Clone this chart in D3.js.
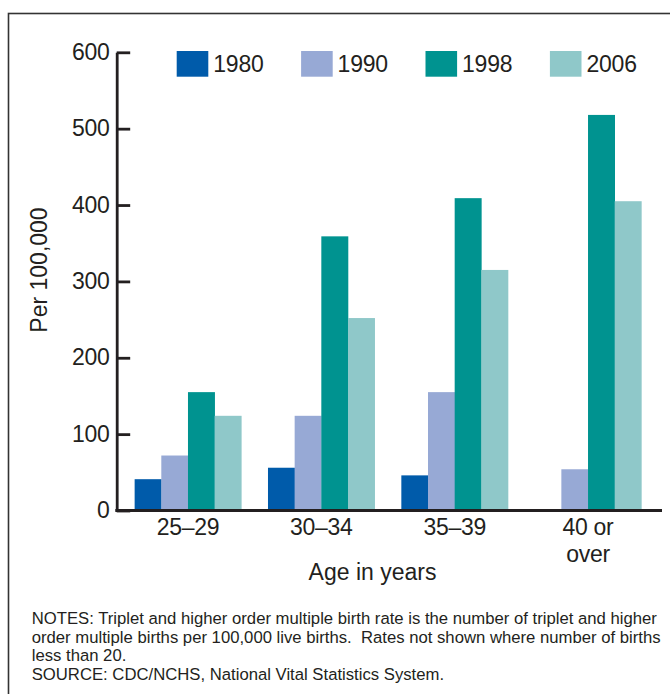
<!DOCTYPE html>
<html>
<head>
<meta charset="utf-8">
<script src="https://cdn.jsdelivr.net/npm/d3@7.9.0/dist/d3.min.js"></script>
<style>
  html, body { margin: 0; padding: 0; background: #fff; }
  svg { display: block; font-family: "Liberation Sans", Arial, Helvetica, sans-serif; }
  text { fill: #231f20; }
</style>
</head>
<body>
<div id="chart"></div>
<script>
// Triplet and higher order multiple birth rates by age of mother
const ageGroups = ['25–29', '30–34', '35–39', '40 or over'];
const years = ['1980', '1990', '1998', '2006'];
const colorsByYear = ['#005baa', '#97a9d5', '#009390', '#8fc8c9'];

// rate per 100,000 live births; null = not shown (fewer than 20 births)
const rate1980 = [41, 56, 46, null];
const rate1990 = [72, 124, 155, 54];
const rate1998 = [155, 359, 409, 518];
const rate2006 = [124, 252, 315, 405];

const yTicks = [0, 100, 200, 300, 400, 500, 600];

const notes = [
  'NOTES: Triplet and higher order multiple birth rate is the number of triplet and higher',
  'order multiple births per 100,000 live births.  Rates not shown where number of births',
  'less than 20.',
  'SOURCE: CDC/NCHS, National Vital Statistics System.'
];

const width = 670;
const height = 694;

const series = years.map((y, i) => ({
  year: y,
  color: colorsByYear[i],
  values: [rate1980, rate1990, rate1998, rate2006][i]
}));

const svg = d3.select('#chart')
  .append('svg')
  .attr('width', width)
  .attr('height', height);

// frame (open on right/bottom, runs off the picture)
svg.append('rect')
  .attr('x', 8.5).attr('y', 13.5)
  .attr('width', 720).attr('height', 720)
  .attr('fill', 'none')
  .attr('stroke', '#333')
  .attr('stroke-width', 1.6);

// scales
const yScale = d3.scaleLinear().domain([0, 600]).range([510.5, 52.3]);

const xScale = d3.scaleBand()
  .domain(ageGroups)
  .range([121.3, 654.7])
  .paddingInner(0.2)
  .paddingOuter(0.1);

const xSub = d3.scaleBand()
  .domain(years)
  .range([0, xScale.bandwidth()]);

// bars
const groups = svg.append('g').attr('class', 'bars')
  .selectAll('g')
  .data(series)
  .join('g')
  .attr('fill', d => d.color);

groups.selectAll('rect')
  .data(d => d.values.map((v, i) => ({ year: d.year, age: ageGroups[i], value: v }))
    .filter(d => d.value != null))
  .join('rect')
  .attr('x', d => xScale(d.age) + xSub(d.year))
  .attr('width', xSub.bandwidth() + 0.3)
  .attr('y', d => yScale(d.value))
  .attr('height', d => yScale(0) - yScale(d.value));

// y axis: ticks point inward
const yAxis = svg.append('g')
  .attr('transform', 'translate(116.7,0)')
  .call(d3.axisRight(yScale).tickValues(yTicks).tickSize(13.5).tickSizeOuter(0).tickFormat(''));
yAxis.select('.domain').attr('stroke', '#231f20').attr('stroke-width', 2.8);
yAxis.selectAll('.tick line').attr('stroke', '#231f20').attr('stroke-width', 2.8);

svg.append('g')
  .selectAll('text')
  .data(yTicks)
  .join('text')
  .attr('x', 109.5)
  .attr('y', d => yScale(d))
  .attr('dy', '0.33em')
  .attr('text-anchor', 'end')
  .attr('font-size', 23)
  .attr('letter-spacing', -0.3)
  .text(d => d);

// x axis line
svg.append('line')
  .attr('x1', 115.3).attr('x2', 662)
  .attr('y1', yScale(0)).attr('y2', yScale(0))
  .attr('stroke', '#231f20')
  .attr('stroke-width', 3.2);

// x tick labels (wrapped)
svg.append('g')
  .selectAll('text')
  .data(ageGroups)
  .join('text')
  .attr('x', d => xScale(d) + xScale.bandwidth() / 2)
  .attr('y', 535)
  .attr('text-anchor', 'middle')
  .attr('font-size', 23)
  .attr('letter-spacing', -0.3)
  .each(function (d) {
    const parts = d === '40 or over' ? ['40 or', 'over'] : [d];
    const t = d3.select(this);
    parts.forEach((p, i) => {
      t.append('tspan')
        .attr('x', xScale(d) + xScale.bandwidth() / 2)
        .attr('dy', i === 0 ? 0 : 26.5)
        .text(p);
    });
  });

// axis titles
svg.append('text')
  .attr('x', 372.5)
  .attr('y', 580)
  .attr('text-anchor', 'middle')
  .attr('font-size', 23)
  .text('Age in years');

svg.append('text')
  .attr('transform', 'translate(47,270) rotate(-90)')
  .attr('text-anchor', 'middle')
  .attr('font-size', 23)
  .text('Per 100,000');

// legend
const legend = svg.append('g')
  .selectAll('g')
  .data(series)
  .join('g')
  .attr('transform', (d, i) => `translate(${176.7 + i * 124.4},51)`);

legend.append('rect')
  .attr('width', 31.6)
  .attr('height', 25.7)
  .attr('fill', d => d.color);

legend.append('text')
  .attr('x', 36.5)
  .attr('y', 20.8)
  .attr('font-size', 23)
  .attr('letter-spacing', -0.2)
  .text(d => d.year);

// notes
svg.append('g')
  .selectAll('text')
  .data(notes)
  .join('text')
  .attr('x', 31.7)
  .attr('y', (d, i) => 624 + i * 18.7)
  .attr('font-size', 16.7)
  .attr('xml:space', 'preserve')
  .style('white-space', 'pre')
  .text(d => d);
</script>
</body>
</html>
